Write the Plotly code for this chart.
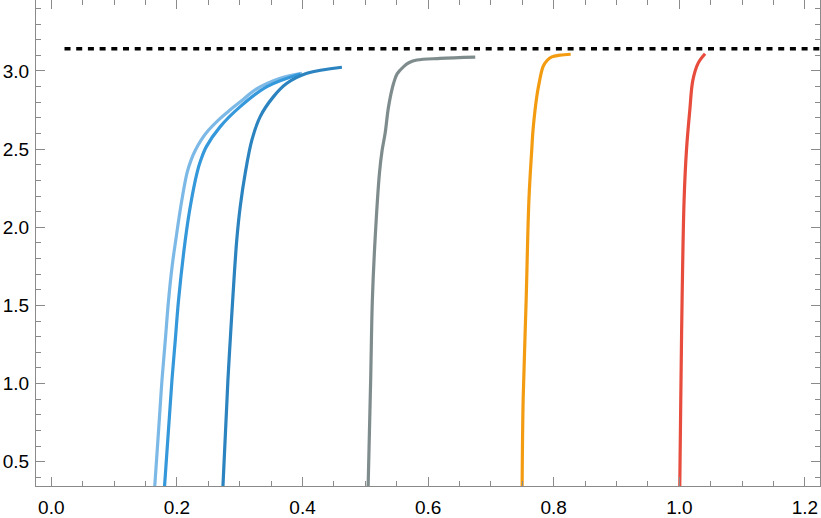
import plotly.graph_objects as go
import math

# ---- data ----
light_x = [0.1647, 0.1719, 0.1762, 0.1815, 0.1867, 0.1926, 0.1982, 0.2061, 0.2160, 0.2225, 0.2295, 0.2385, 0.2505, 0.2660, 0.2845, 0.3045, 0.3239, 0.3645, 0.399]
light_y = [0.345, 0.767, 1.023, 1.279, 1.535, 1.759, 1.919, 2.132, 2.347, 2.430, 2.494, 2.558, 2.622, 2.686, 2.750, 2.814, 2.878, 2.953, 2.985]

mid_x = [0.1803, 0.1921, 0.1974, 0.2026, 0.2133, 0.2212, 0.2319, 0.2380, 0.2469, 0.2690, 0.3008, 0.3433, 0.3963]
mid_y = [0.345, 1.023, 1.279, 1.535, 1.919, 2.132, 2.347, 2.430, 2.516, 2.644, 2.772, 2.900, 2.981]

dark_x = [0.2733, 0.2812, 0.2849, 0.2888, 0.2953, 0.3008, 0.3088, 0.3194, 0.3326, 0.3538, 0.3751, 0.4070, 0.4627]
dark_y = [0.345, 1.023, 1.279, 1.535, 1.919, 2.132, 2.347, 2.559, 2.708, 2.836, 2.921, 2.985, 3.024]

gray_x = [0.5045, 0.5085, 0.5112, 0.5155, 0.5225, 0.5268, 0.5316, 0.5370, 0.5450, 0.5506, 0.5610, 0.5700, 0.5820, 0.6190, 0.675]
gray_y = [0.345, 1.023, 1.535, 1.919, 2.347, 2.494, 2.603, 2.772, 2.921, 2.981, 3.028, 3.054, 3.070, 3.080, 3.088]

orange_x = [0.7497, 0.7513, 0.7561, 0.7605, 0.7650, 0.7670, 0.7730, 0.7767, 0.7830, 0.7894, 0.7970, 0.8101, 0.827]
orange_y = [0.345, 0.895, 1.535, 2.175, 2.495, 2.620, 2.836, 2.921, 3.028, 3.067, 3.090, 3.101, 3.107]

red_x = [1.0007, 1.0023, 1.0044, 1.0076, 1.0114, 1.0167, 1.0215, 1.0300, 1.041]
red_y = [0.345, 0.895, 1.535, 2.175, 2.495, 2.750, 2.940, 3.050, 3.110]

pi_x = [0.021, 1.25]
pi_y = [math.pi, math.pi]

x_ticks = [0.0, 0.2, 0.4, 0.6, 0.8, 1.0, 1.2]
y_ticks = [0.5, 1.0, 1.5, 2.0, 2.5, 3.0]

series = [
    (light_x, light_y, "#7db9e6"),
    (mid_x, mid_y, "#3498db"),
    (dark_x, dark_y, "#2b83bf"),
    (gray_x, gray_y, "#7f8c8d"),
    (orange_x, orange_y, "#f39c12"),
    (red_x, red_y, "#e74c3c"),
]

fig = go.Figure()
for xs, ys, c in series:
    fig.add_trace(go.Scatter(x=xs, y=ys, mode="lines",
                             line=dict(color=c, width=3.2, shape="spline", smoothing=1.0),
                             hoverinfo="skip", showlegend=False))

fig.add_trace(go.Scatter(x=pi_x, y=pi_y, mode="lines",
                         line=dict(color="black", width=3.5, dash="6px,5.7px"),
                         hoverinfo="skip", showlegend=False))

axis_common = dict(
    showgrid=False, zeroline=False, automargin=False,
    showline=True, linecolor="#8a8a8a", linewidth=1, mirror="allticks",
    ticks="inside", ticklen=9, tickwidth=1, tickcolor="#8a8a8a",
    tickfont=dict(family="Liberation Sans, Arial, sans-serif", size=19, color="black"),
)

fig.update_xaxes(range=[-0.0244, 1.224], tickvals=x_ticks,
                 ticktext=[f"{v:.1f}" for v in x_ticks],
                 minor=dict(dtick=0.05, ticks="inside", ticklen=5, tickcolor="#8a8a8a", showgrid=False),
                 ticklabelstandoff=4,
                 **axis_common)
fig.update_yaxes(range=[0.345, 3.454], tickvals=y_ticks,
                 ticktext=[f"{v:.1f}" for v in y_ticks],
                 minor=dict(dtick=0.1, ticks="inside", ticklen=5, tickcolor="#8a8a8a", showgrid=False),
                 ticklabelstandoff=2,
                 **axis_common)

fig.update_layout(
    width=821, height=518,
    margin=dict(l=36, r=1, t=0, b=32),
    plot_bgcolor="white", paper_bgcolor="white",
)

fig.write_html("out.html", config={"displayModeBar": False},
               post_script="document.body.style.margin='0';document.body.style.padding='0';")
